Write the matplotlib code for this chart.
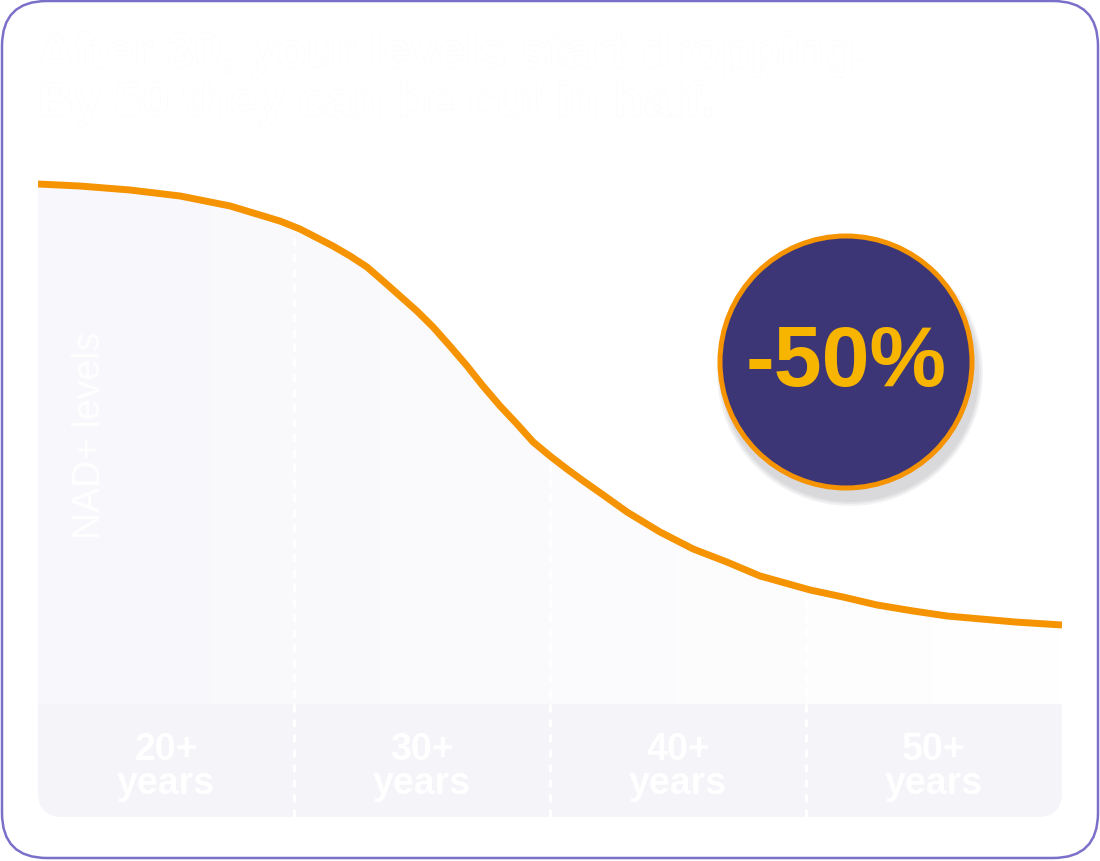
import matplotlib.pyplot as plt
import numpy as np
import matplotlib.patheffects as pe
from matplotlib.patches import FancyBboxPatch, Rectangle, Circle
from matplotlib.colors import LinearSegmentedColormap

# datos
ages = [20.0, 21.64, 23.59, 25.55, 27.5, 29.45, 30.23, 31.52, 32.19, 32.85, 33.48,
        34.14, 34.80, 35.43, 36.09, 36.76, 37.38, 38.05, 38.71, 39.34, 40.0, 40.66,
        41.29, 42.1, 43.01, 44.30, 45.59, 46.91, 48.20, 50.16, 51.45, 52.77, 54.18,
        55.51, 56.84, 58.16, 60.0]
levels = [100.0, 99.77, 99.32, 98.64, 97.51, 95.80, 94.90, 92.97, 91.84, 90.59, 89.00,
          87.30, 85.60, 83.79, 81.63, 79.37, 77.10, 74.83, 72.79, 70.75, 69.16, 67.69,
          66.35, 64.7, 62.81, 60.54, 58.62, 57.14, 55.56, 53.97, 53.17, 52.27, 51.59,
          51.02, 50.68, 50.34, 50.0]
limites = [20, 30, 40, 50, 60]
grupos = ["20+\nyears", "30+\nyears", "40+\nyears", "50+\nyears"]
titulo = "After 30, your levels start dropping.\nBy 50 they can be cut in half."
etiqueta_y = "NAD+ levels"
caida = "-50%"

naranja = "#f59300"
morado = "#3c3677"
borde = "#7b70c9"
banda = "#f4f4f9"

fig = plt.figure(figsize=(11, 8.62), dpi=100)

# fondo: tarjeta y banda inferior (coordenadas en pixeles)
bg = fig.add_axes([0, 0, 1, 1], zorder=0)
bg.set_xlim(0, 1100)
bg.set_ylim(862, 0)
bg.axis("off")
bg.add_patch(FancyBboxPatch((2, 2), 1096, 857, boxstyle="round,pad=0,rounding_size=45",
                            fc="white", ec=borde, lw=1.8))
bg.add_patch(FancyBboxPatch((38, 705), 1024, 113, boxstyle="round,pad=0,rounding_size=25",
                            fc=banda, ec="none"))
bg.add_patch(Rectangle((38, 705), 1024, 50, fc=banda, ec="none"))

# grafico principal
ax = fig.add_axes([38 / 1100, 44 / 862, 1024 / 1100, 648 / 862], zorder=1)
ax.set_facecolor("none")
ax.set_xlim(limites[0], limites[-1])
y0, y1 = 28.23, 101.70
ax.set_ylim(y0, y1)
ax.axis("off")
base = 41.04

poly = ax.fill_between(ages, levels, base, facecolor="none", edgecolor="none")
cmap = LinearSegmentedColormap.from_list("fondo", ["#f8f8fc", "#fbfbfd", "#ffffff"])
im = ax.imshow(np.linspace(0, 1, 256).reshape(1, -1), extent=[20, 60, base, 100],
               aspect="auto", cmap=cmap, zorder=1)
im.set_clip_path(poly.get_paths()[0], transform=ax.transData)

ax.plot(ages, levels, color=naranja, lw=5, solid_capstyle="butt",
        solid_joinstyle="round", zorder=3)

for x in limites[1:-1]:
    ax.vlines(x, y0, np.interp(x, ages, levels), colors="white", lw=2.3,
              linestyles=(0, (2.5, 2.2)), zorder=2)

for i, g in enumerate(grupos):
    centro = (limites[i] + limites[i + 1]) / 2
    ax.text(centro, 34.0, g, ha="center", va="center", color="white",
            fontsize=27, fontweight="bold", family="Liberation Sans",
            linespacing=0.92, zorder=4)

ax.text(22.05, 71.6, etiqueta_y, rotation=90, ha="center", va="center",
        color="white", fontsize=27, family="Liberation Sans", zorder=4)

fig.text(38 / 1100, 1 - 33 / 862, titulo, ha="left", va="top", color="white",
         fontsize=35.5, fontweight="bold", family="Liberation Sans", linespacing=1.12,
         path_effects=[pe.withStroke(linewidth=0.5, foreground="#fafafb")])

# circulo -50%
fg = fig.add_axes([0, 0, 1, 1], zorder=3)
fg.set_xlim(0, 1100)
fg.set_ylim(862, 0)
fg.axis("off")
for r, a in [(133, 0.25), (131, 0.35), (129, 0.5)]:
    fg.add_patch(Circle((850, 374), r, fc="#cfcfd2", ec="none", alpha=a))
fg.add_patch(Circle((846, 363), 126, fc=morado, ec=naranja, lw=3.6))
fg.text(846, 364, caida, ha="center", va="center", color="#f7b500",
        fontsize=62, fontweight="bold", family="Liberation Sans")

plt.savefig("out.png", dpi=100)
